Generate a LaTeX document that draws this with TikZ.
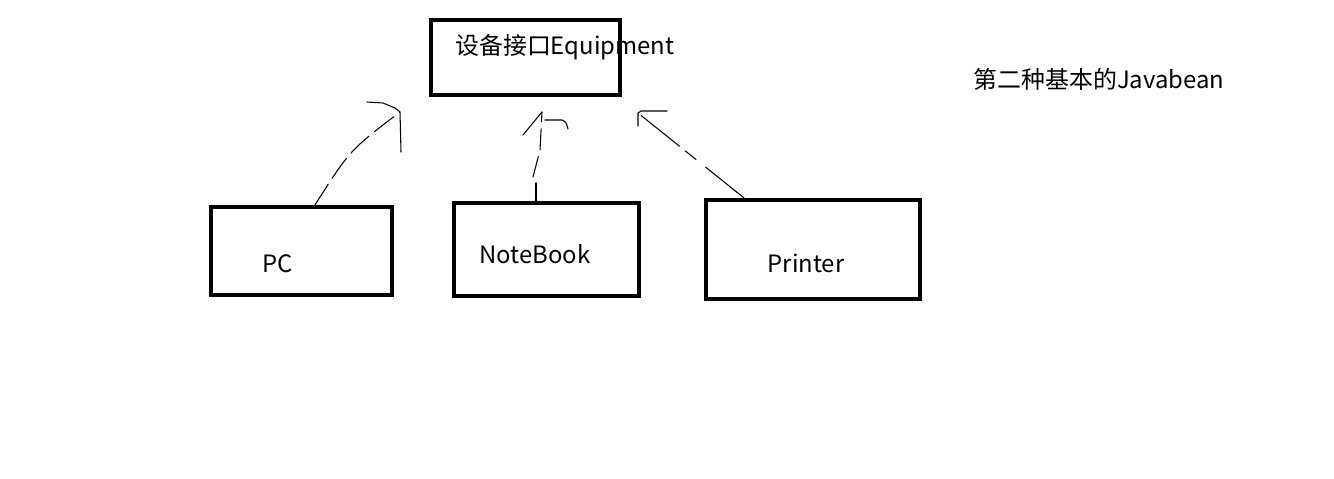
\documentclass[tikz,border=0pt]{standalone}
\usepackage{fontspec}
\setmainfont{Noto Sans CJK SC}
\usepackage{tikz}
\tikzstyle{box}=[draw=black, line width=2.4pt, rectangle, inner sep=0pt]
\tikzstyle{txt}=[inner sep=0pt, font=\fontsize{13.6pt}{16pt}\selectfont]
\tikzstyle{pen}=[line width=0.6pt, line cap=round, line join=round]

\begin{document}
\begin{tikzpicture}[x=0.02cm, y=-0.02cm]
    \useasboundingbox (0,0) rectangle (1334,479);
    \node[box, minimum width=3.78cm, minimum height=1.5cm] (eq) at (525.5,57.5) {};
    \node[box, minimum width=3.62cm, minimum height=1.76cm] (pc) at (301.5,251) {};
    \node[box, minimum width=3.7cm, minimum height=1.86cm] (nb) at (546.5,249.5) {};
    \node[box, minimum width=4.28cm, minimum height=1.98cm] (pr) at (813,249.5) {};
    \node[txt, anchor=west] (eqt) at (455,47) {设备接口Equipment};
    \node[txt] (pct) at (278,264) {PC};
    \node[txt] (nbt) at (535,254) {NoteBook};
    \node[txt] (prt) at (806,263) {Printer};
    \node[txt] (title) at (1099,79) {第二种基本的Javabean};
    % arrow tips
    \coordinate (pctip) at (400,112);
    \coordinate (nbtip) at (542,112);
    \coordinate (prtip) at (638,113);
    % PC
    \draw[pen, dash pattern=on 14pt off 4pt] (pc.north -| 315,0) .. controls (350,150) .. (pctip);
    \draw[pen] (367,102) -- (383,103) -- (395,108) -- (pctip) -- (401,152);
    % NoteBook
    \draw[pen] (nb.north -| 536,0) -- (536,183);
    \draw[pen, dash pattern=on 12pt off 4pt] (533,177) -- (540,150) -- (nbtip);
    \draw[pen] (523,135) -- (nbtip);
    \draw[pen] (545,120) -- (562,120) .. controls (566,122) .. (568,129);
    % Printer
    \draw[pen, dash pattern=on 28pt off 7pt on 8pt off 4pt] (pr.north -| 744,0) -- (prtip);
    \draw[pen] (667,111) -- (641,111) -- (prtip) -- (638,126);
\end{tikzpicture}
\end{document}
